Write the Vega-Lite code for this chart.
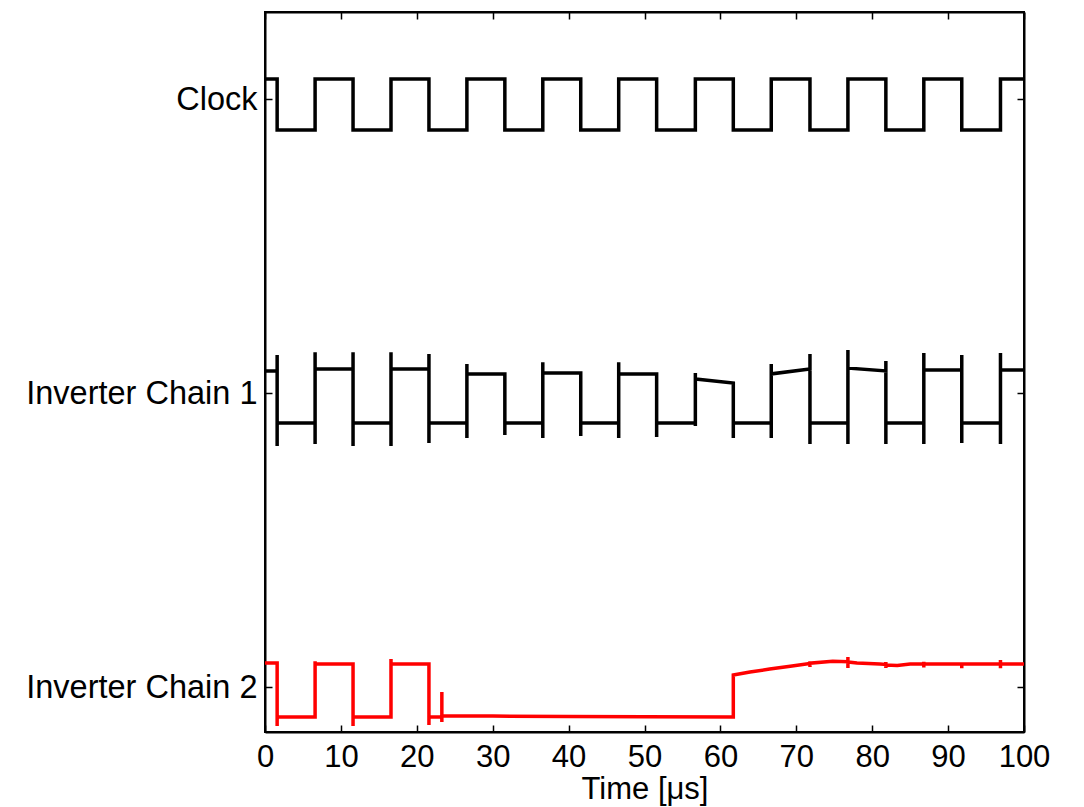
{
  "$schema": "https://vega.github.io/schema/vega-lite/v6.json",
  "width": 759,
  "height": 720,
  "autosize": {"type": "none"},
  "padding": {"left": 265, "top": 12, "right": 60, "bottom": 75},
  "background": "white",
  "config": {"view": {"stroke": "black", "strokeWidth": 2}, "font": "Liberation Sans"},
  "data": {"values": [
    {"s":"Clock","t":0,"v":2.068},{"s":"Clock","t":1.6,"v":2.068},{"s":"Clock","t":1.6,"v":1.895},{"s":"Clock","t":6.6,"v":1.895},{"s":"Clock","t":6.6,"v":2.068},{"s":"Clock","t":11.6,"v":2.068},{"s":"Clock","t":11.6,"v":1.895},{"s":"Clock","t":16.6,"v":1.895},{"s":"Clock","t":16.6,"v":2.068},{"s":"Clock","t":21.6,"v":2.068},{"s":"Clock","t":21.6,"v":1.895},{"s":"Clock","t":26.6,"v":1.895},{"s":"Clock","t":26.6,"v":2.068},{"s":"Clock","t":31.6,"v":2.068},{"s":"Clock","t":31.6,"v":1.895},{"s":"Clock","t":36.6,"v":1.895},{"s":"Clock","t":36.6,"v":2.068},{"s":"Clock","t":41.6,"v":2.068},{"s":"Clock","t":41.6,"v":1.895},{"s":"Clock","t":46.6,"v":1.895},{"s":"Clock","t":46.6,"v":2.068},{"s":"Clock","t":51.6,"v":2.068},{"s":"Clock","t":51.6,"v":1.895},{"s":"Clock","t":56.7,"v":1.895},{"s":"Clock","t":56.7,"v":2.068},{"s":"Clock","t":61.7,"v":2.068},{"s":"Clock","t":61.7,"v":1.895},{"s":"Clock","t":66.7,"v":1.895},{"s":"Clock","t":66.7,"v":2.068},{"s":"Clock","t":71.8,"v":2.068},{"s":"Clock","t":71.8,"v":1.895},{"s":"Clock","t":76.8,"v":1.895},{"s":"Clock","t":76.8,"v":2.068},{"s":"Clock","t":81.8,"v":2.068},{"s":"Clock","t":81.8,"v":1.895},{"s":"Clock","t":86.8,"v":1.895},{"s":"Clock","t":86.8,"v":2.068},{"s":"Clock","t":91.8,"v":2.068},{"s":"Clock","t":91.8,"v":1.895},{"s":"Clock","t":96.9,"v":1.895},{"s":"Clock","t":96.9,"v":2.068},{"s":"Clock","t":100,"v":2.068},

    {"s":"IC1","t":0,"v":1.075},{"s":"IC1","t":1.6,"v":1.075},{"s":"IC1","t":1.6,"v":1.129},{"s":"IC1","t":1.6,"v":0.82},{"s":"IC1","t":1.6,"v":0.898},
    {"s":"IC1","t":6.6,"v":0.898},{"s":"IC1","t":6.6,"v":1.139},{"s":"IC1","t":6.6,"v":0.827},{"s":"IC1","t":6.6,"v":1.082},
    {"s":"IC1","t":11.6,"v":1.082},{"s":"IC1","t":11.6,"v":1.139},{"s":"IC1","t":11.6,"v":0.82},{"s":"IC1","t":11.6,"v":0.898},
    {"s":"IC1","t":16.6,"v":0.898},{"s":"IC1","t":16.6,"v":1.139},{"s":"IC1","t":16.6,"v":0.82},{"s":"IC1","t":16.6,"v":1.082},
    {"s":"IC1","t":21.6,"v":1.082},{"s":"IC1","t":21.6,"v":1.133},{"s":"IC1","t":21.6,"v":0.83},{"s":"IC1","t":21.6,"v":0.898},
    {"s":"IC1","t":26.6,"v":0.898},{"s":"IC1","t":26.6,"v":1.099},{"s":"IC1","t":26.6,"v":0.847},{"s":"IC1","t":26.6,"v":1.065},
    {"s":"IC1","t":31.6,"v":1.065},{"s":"IC1","t":31.6,"v":0.857},{"s":"IC1","t":31.6,"v":0.898},
    {"s":"IC1","t":36.6,"v":0.898},{"s":"IC1","t":36.6,"v":1.105},{"s":"IC1","t":36.6,"v":0.847},{"s":"IC1","t":36.6,"v":1.068},
    {"s":"IC1","t":41.6,"v":1.068},{"s":"IC1","t":41.6,"v":0.854},{"s":"IC1","t":41.6,"v":0.898},
    {"s":"IC1","t":46.6,"v":0.898},{"s":"IC1","t":46.6,"v":1.105},{"s":"IC1","t":46.6,"v":0.847},{"s":"IC1","t":46.6,"v":1.065},
    {"s":"IC1","t":51.6,"v":1.065},{"s":"IC1","t":51.6,"v":0.85},{"s":"IC1","t":51.6,"v":0.898},
    {"s":"IC1","t":56.7,"v":0.898},{"s":"IC1","t":56.7,"v":1.068},{"s":"IC1","t":56.7,"v":0.888},{"s":"IC1","t":56.7,"v":1.048},
    {"s":"IC1","t":61.7,"v":1.034},{"s":"IC1","t":61.7,"v":0.847},{"s":"IC1","t":61.7,"v":0.898},
    {"s":"IC1","t":66.7,"v":0.898},{"s":"IC1","t":66.7,"v":1.099},{"s":"IC1","t":66.7,"v":0.847},{"s":"IC1","t":66.7,"v":1.065},
    {"s":"IC1","t":71.8,"v":1.082},{"s":"IC1","t":71.8,"v":1.133},{"s":"IC1","t":71.8,"v":0.827},{"s":"IC1","t":71.8,"v":0.898},
    {"s":"IC1","t":76.8,"v":0.898},{"s":"IC1","t":76.8,"v":1.146},{"s":"IC1","t":76.8,"v":0.827},{"s":"IC1","t":76.8,"v":1.085},
    {"s":"IC1","t":81.8,"v":1.075},{"s":"IC1","t":81.8,"v":1.109},{"s":"IC1","t":81.8,"v":0.827},{"s":"IC1","t":81.8,"v":0.898},
    {"s":"IC1","t":86.8,"v":0.898},{"s":"IC1","t":86.8,"v":1.136},{"s":"IC1","t":86.8,"v":0.827},{"s":"IC1","t":86.8,"v":1.078},
    {"s":"IC1","t":91.8,"v":1.078},{"s":"IC1","t":91.8,"v":1.129},{"s":"IC1","t":91.8,"v":0.83},{"s":"IC1","t":91.8,"v":0.898},
    {"s":"IC1","t":96.9,"v":0.898},{"s":"IC1","t":96.9,"v":1.136},{"s":"IC1","t":96.9,"v":0.827},{"s":"IC1","t":96.9,"v":1.078},
    {"s":"IC1","t":100,"v":1.078},

    {"s":"IC2","t":0,"v":0.082},{"s":"IC2","t":1.6,"v":0.082},{"s":"IC2","t":1.6,"v":-0.133},{"s":"IC2","t":1.6,"v":-0.102},
    {"s":"IC2","t":6.6,"v":-0.102},{"s":"IC2","t":6.6,"v":0.088},{"s":"IC2","t":6.6,"v":0.078},
    {"s":"IC2","t":11.6,"v":0.078},{"s":"IC2","t":11.6,"v":-0.133},{"s":"IC2","t":11.6,"v":-0.102},
    {"s":"IC2","t":16.6,"v":-0.102},{"s":"IC2","t":16.6,"v":0.095},{"s":"IC2","t":16.6,"v":0.078},
    {"s":"IC2","t":21.6,"v":0.078},{"s":"IC2","t":21.6,"v":-0.129},{"s":"IC2","t":21.6,"v":-0.102},
    {"s":"IC2","t":23.3,"v":-0.102},{"s":"IC2","t":23.3,"v":-0.017},{"s":"IC2","t":23.3,"v":-0.119},{"s":"IC2","t":23.3,"v":-0.099},
    {"s":"IC2","t":30,"v":-0.099},{"s":"IC2","t":40,"v":-0.1},{"s":"IC2","t":50,"v":-0.101},{"s":"IC2","t":61.7,"v":-0.102},
    {"s":"IC2","t":61.7,"v":0.041},{"s":"IC2","t":63.9,"v":0.051},{"s":"IC2","t":66.5,"v":0.061},{"s":"IC2","t":69.2,"v":0.071},
    {"s":"IC2","t":71.8,"v":0.08},{"s":"IC2","t":71.8,"v":0.088},{"s":"IC2","t":71.8,"v":0.068},{"s":"IC2","t":71.8,"v":0.081},
    {"s":"IC2","t":74.8,"v":0.088},{"s":"IC2","t":76.8,"v":0.086},{"s":"IC2","t":76.8,"v":0.102},{"s":"IC2","t":76.8,"v":0.065},{"s":"IC2","t":76.8,"v":0.085},
    {"s":"IC2","t":78,"v":0.082},{"s":"IC2","t":81,"v":0.078},{"s":"IC2","t":81.8,"v":0.077},{"s":"IC2","t":81.8,"v":0.085},{"s":"IC2","t":81.8,"v":0.065},{"s":"IC2","t":81.8,"v":0.075},
    {"s":"IC2","t":83.3,"v":0.073},{"s":"IC2","t":85,"v":0.078},{"s":"IC2","t":86.8,"v":0.078},{"s":"IC2","t":86.8,"v":0.086},{"s":"IC2","t":86.8,"v":0.066},{"s":"IC2","t":86.8,"v":0.078},
    {"s":"IC2","t":90.2,"v":0.078},{"s":"IC2","t":91.8,"v":0.078},{"s":"IC2","t":91.8,"v":0.084},{"s":"IC2","t":91.8,"v":0.064},{"s":"IC2","t":91.8,"v":0.078},
    {"s":"IC2","t":96.9,"v":0.078},{"s":"IC2","t":96.9,"v":0.092},{"s":"IC2","t":96.9,"v":0.064},{"s":"IC2","t":96.9,"v":0.078},{"s":"IC2","t":100,"v":0.078}
  ]},
  "layer": [
    {
      "mark": {"type": "line", "strokeWidth": 3.5, "clip": true},
      "encoding": {
        "x": {"field": "t", "type": "quantitative",
          "scale": {"domain": [0, 100], "nice": false, "zero": false},
          "axis": {"orient": "bottom", "values": [0,10,20,30,40,50,60,70,80,90,100], "title": "Time [μs]", "grid": false,
            "tickSize": -7, "tickColor": "black", "tickWidth": 1.5, "domainColor": "black", "domainWidth": 2,
            "labelFontSize": 31, "labelColor": "black", "labelPadding": 17, "labelFlush": false, "labelOverlap": false,
            "titleFontSize": 31, "titleFontWeight": "normal", "titleColor": "black", "titlePadding": 2}},
        "y": {"field": "v", "type": "quantitative",
          "scale": {"domain": [-0.153, 2.296], "nice": false, "zero": false},
          "axis": {"orient": "left", "values": [0, 1, 2], "title": null, "grid": false,
            "labelExpr": "datum.value == 2 ? 'Clock' : datum.value == 1 ? 'Inverter Chain 1' : 'Inverter Chain 2'",
            "tickSize": -7, "tickColor": "black", "tickWidth": 1.5, "domainColor": "black", "domainWidth": 2,
            "labelFontSize": 32.5, "labelColor": "black", "labelPadding": 15, "labelLimit": 400, "labelOverlap": false}},
        "color": {"field": "s", "type": "nominal", "scale": {"domain": ["Clock", "IC1", "IC2"], "range": ["#000000", "#000000", "#ff0000"]}, "legend": null},
        "order": {"value": null}
      }
    },
    {
      "mark": {"type": "line", "opacity": 0},
      "encoding": {
        "x": {"field": "t", "type": "quantitative",
          "axis": {"orient": "top", "values": [0,10,20,30,40,50,60,70,80,90,100], "title": null, "labels": false, "grid": false,
            "tickSize": -7, "tickColor": "black", "tickWidth": 1.5, "domainColor": "black", "domainWidth": 2}},
        "y": {"field": "v", "type": "quantitative",
          "axis": {"orient": "right", "values": [0, 1, 2], "title": null, "labels": false, "grid": false,
            "tickSize": -7, "tickColor": "black", "tickWidth": 1.5, "domainColor": "black", "domainWidth": 2}},
        "detail": {"field": "s"},
        "order": {"value": null}
      }
    }
  ],
  "resolve": {"axis": {"x": "independent", "y": "independent"}}
}
